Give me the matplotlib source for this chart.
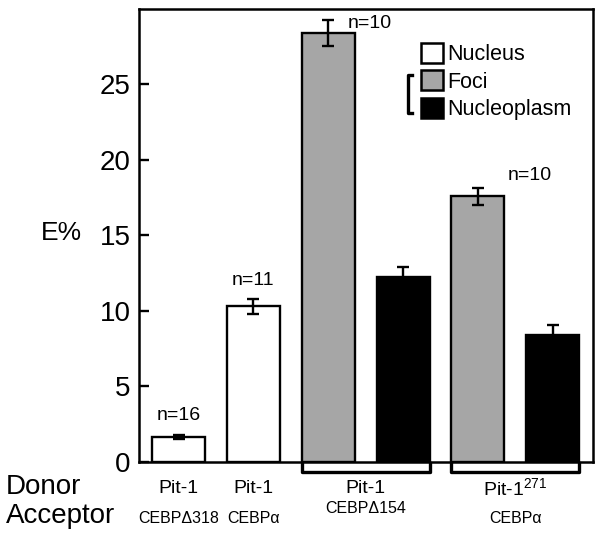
import matplotlib
matplotlib.use("Agg")
import matplotlib.pyplot as plt
import matplotlib.transforms as mtransforms
from matplotlib.patches import Patch

plt.rcParams['font.family'] = ['Liberation Sans', 'DejaVu Sans']
plt.rcParams['mathtext.fontset'] = 'custom'
plt.rcParams['mathtext.rm'] = 'Liberation Sans'
plt.rcParams['mathtext.default'] = 'regular'

# data
values = [1.65, 10.3, 28.4, 12.25, 17.6, 8.4]
errors = [0.12, 0.5, 0.85, 0.65, 0.55, 0.65]
kinds = ['Nucleus', 'Nucleus', 'Foci', 'Nucleoplasm', 'Foci', 'Nucleoplasm']
n_labels = ['n=16', 'n=11', 'n=10', 'n=10']
donors = ['Pit-1', 'Pit-1', 'Pit-1', r'Pit-1$^{271}$']
acceptors = ['CEBP\u0394318', 'CEBP\u03b1', 'CEBP\u0394154', 'CEBP\u03b1']

colors = {'Nucleus': 'white', 'Foci': '#a6a6a6', 'Nucleoplasm': 'black'}

fig = plt.figure(figsize=(6.0, 5.38), dpi=100)
ax = fig.add_axes([0.2317, 0.1413, 0.7567, 0.842])

x = list(range(len(values)))
width = 0.71
ax.bar(x, values, width=width, color=[colors[k] for k in kinds],
       edgecolor='black', linewidth=1.7, zorder=2)
ax.errorbar(x, values, yerr=errors, fmt='none', ecolor='black',
            elinewidth=1.7, capsize=4.5, capthick=1.7, zorder=3)

# n= annotations
n_pos = [(0, 3.1), (1, 12.0), (2.55, 29.05), (4.7, 18.95)]
for (px, py), lab in zip(n_pos, n_labels):
    ax.text(px, py, lab, ha='center', va='center', fontsize=14)

ax.set_xlim(-0.53, 5.54)
ax.set_ylim(0, 30)
ax.set_yticks([0, 5, 10, 15, 20, 25])
ax.set_xticks([])
ax.tick_params(axis='y', direction='in', length=7, width=1.7,
               labelsize=20, pad=6)
for s in ax.spines.values():
    s.set_linewidth(1.8)

ax.text(-0.17, 0.505, 'E%', transform=ax.transAxes, fontsize=19,
        ha='center', va='center')

# legend
handles = [Patch(facecolor=colors[k], edgecolor='black', linewidth=1.8)
           for k in ['Nucleus', 'Foci', 'Nucleoplasm']]
leg = ax.legend(handles, ['Nucleus', 'Foci', 'Nucleoplasm'],
                loc='upper left', bbox_to_anchor=(0.621, 0.925),
                frameon=False, fontsize=15.5, handlelength=1.02,
                handleheight=1.02, handletextpad=0.2, labelspacing=0.25,
                borderaxespad=0, borderpad=0)

# bracket joining Foci and Nucleoplasm
ax.plot([0.601, 0.5925, 0.5925, 0.601], [0.854, 0.854, 0.770, 0.770],
        transform=ax.transAxes, color='black', lw=2.4, clip_on=False)

# group brackets under the axis
trans = mtransforms.blended_transform_factory(ax.transData, ax.transAxes)
for g0, g1 in [(2, 3), (4, 5)]:
    xl, xr = g0 - width / 2, g1 + width / 2
    ax.plot([xl, xl, xr, xr], [-0.002, -0.022, -0.022, -0.002],
            transform=trans, color='black', lw=2.4, clip_on=False)

# donor / acceptor labels
label_x = [0, 1, 2.5, 4.5]
acc_y = [-0.124, -0.124, -0.102, -0.124]
for lx, d, a, ay in zip(label_x, donors, acceptors, acc_y):
    ax.text(lx, -0.058, d, transform=trans, ha='center', va='center',
            fontsize=14)
    ax.text(lx, ay, a, transform=trans, ha='center', va='center',
            fontsize=11.5)

fig.text(0.01, 1 - 494 / 538, 'Donor', fontsize=20, va='baseline')
fig.text(0.01, 1 - 523 / 538, 'Acceptor', fontsize=20, va='baseline')

fig.savefig('out.png', dpi=100)
